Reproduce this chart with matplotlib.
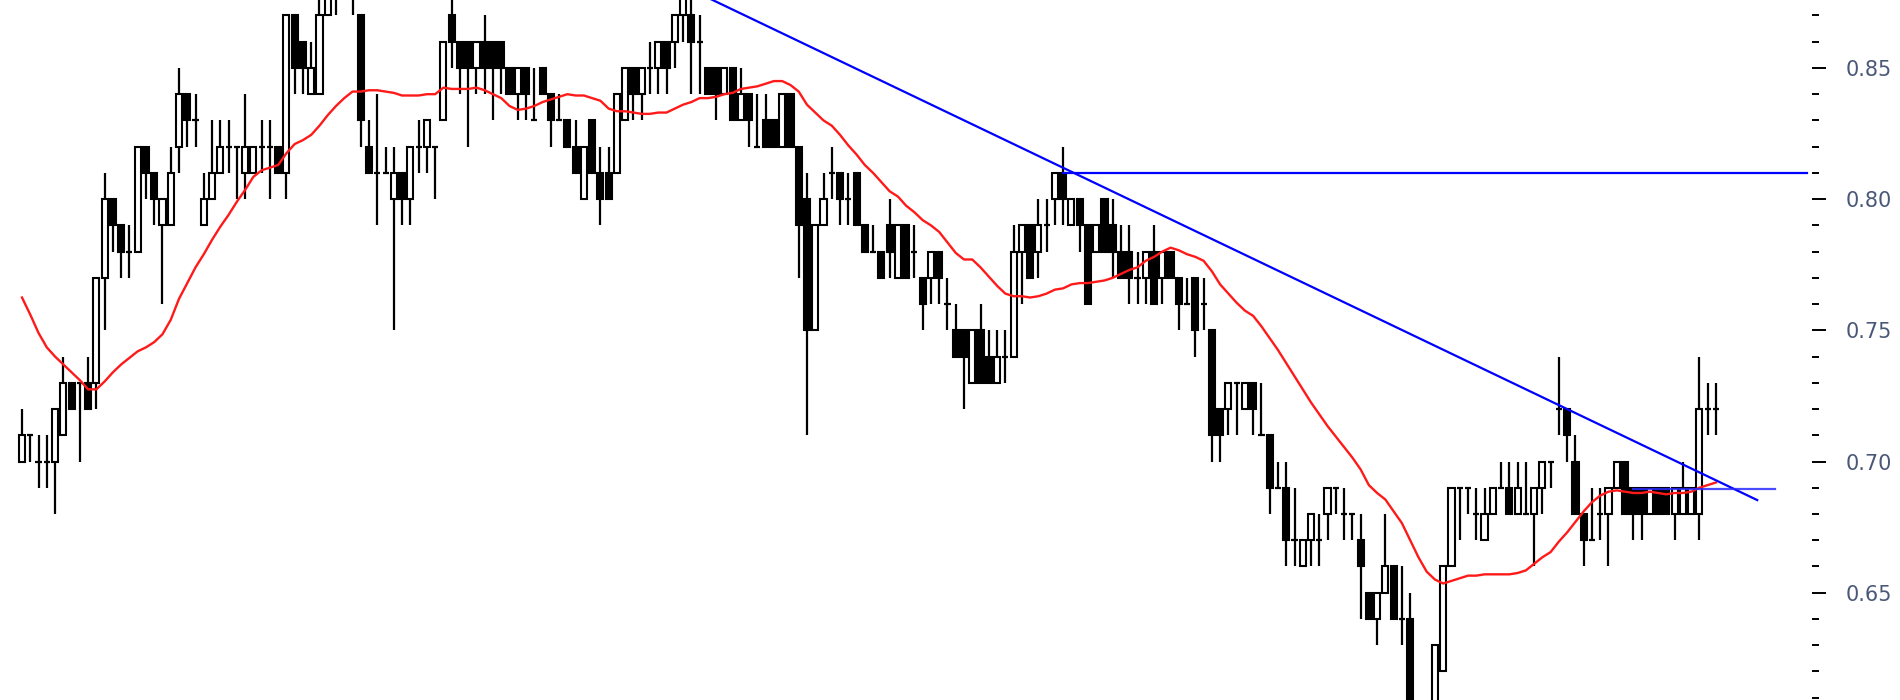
import numpy as np
import matplotlib
matplotlib.use("Agg")
import matplotlib.pyplot as plt
from matplotlib.ticker import FixedLocator, FormatStrFormatter

# ---- data (prices in 0.01 steps) ----
opens = [.70,.71,.70,.70,.70,.71,.73,.73,.73,.73,.77,.80,.79,.78,.78,.82,.81,.79,.79,.82,.84,.83,.79,.80,.81,.82,.82,
         .81,.81,.82,.82,.82,.81,.87,.86,.84,.84,.87,.89,.89,.90,.87,.82,.81,.81,.80,.81,.80,.82,.82,.82,.83,.87,.86,.86,
         .85,.86,.86,.86,.85,.84,.85,.83,.85,.84,.83,.83,.82,.80,.83,.81,.81,.81,.83,.85,.84,.85,.85,.86,.86,.87,.87,
         .86,.85,.85,.84,.85,.83,.84,.82,.83,.83,.82,.84,.82,.80,.75,.79,.81,.81,.80,.81,.79,.78,.78,.79,.77,.79,.78,.77,
         .77,.78,.76,.75,.75,.73,.75,.74,.73,.74,.74,.78,.79,.78,.79,.80,.81,.79,.80,.79,.78,.80,.79,.78,.78,.77,.77,.78,
         .77,.78,.77,.76,.77,.76,.75,.72,.72,.73,.72,.73,.71,.71,.69,.69,.67,.66,.67,.67,.68,.69,.68,.68,.67,.65,.64,.65,
         .66,.64,.64,.60,.59,.60,.62,.66,.69,.69,.68,.67,.68,.69,.69,.68,.68,.68,.69,.70,.72,.72,
         .70,.68,.67,.68,.68,.69,.70,.69,.69,.68,.69,.69,.68,.68,.68,.68,.72,.72]
highs = [.72,.71,.71,.71,.72,.74,.73,.73,.74,.77,.81,.80,.79,.79,.82,.82,.81,.80,.82,.85,.84,.84,.81,.83,.83,.83,.82,
         .84,.82,.83,.83,.82,.87,.87,.86,.86,.88,.89,.90,.91,.91,.87,.83,.84,.82,.82,.81,.82,.83,.83,.82,.86,.88,.86,.86,
         .86,.87,.86,.86,.85,.85,.85,.85,.85,.84,.84,.83,.83,.82,.83,.82,.82,.84,.85,.85,.85,.86,.86,.86,.87,.89,.88,
         .87,.85,.85,.85,.85,.85,.84,.84,.84,.83,.84,.84,.82,.81,.79,.81,.82,.81,.81,.81,.79,.79,.78,.80,.79,.79,.79,.77,
         .78,.78,.77,.76,.75,.75,.76,.75,.75,.75,.79,.79,.79,.80,.80,.81,.82,.80,.80,.79,.79,.80,.80,.79,.79,.78,.78,.79,
         .78,.78,.77,.77,.77,.77,.75,.72,.73,.73,.73,.73,.73,.71,.70,.70,.69,.67,.68,.68,.69,.69,.69,.68,.68,.65,.65,.68,
         .66,.66,.65,.60,.60,.63,.66,.69,.69,.69,.69,.69,.69,.70,.70,.70,.70,.69,.70,.70,.74,.72,
         .71,.68,.69,.69,.69,.70,.70,.69,.69,.69,.69,.69,.69,.70,.69,.74,.73,.73]
lows = [.70,.70,.69,.69,.68,.71,.72,.70,.72,.72,.75,.78,.77,.77,.78,.80,.79,.76,.79,.81,.82,.82,.79,.80,.81,.81,.80,
        .80,.81,.81,.80,.81,.80,.84,.84,.84,.84,.87,.87,.88,.87,.82,.81,.79,.81,.75,.79,.79,.81,.81,.80,.83,.85,.84,.82,
        .84,.84,.83,.84,.84,.83,.83,.83,.84,.82,.83,.82,.81,.80,.81,.79,.80,.81,.83,.83,.83,.84,.84,.84,.85,.86,.84,
        .84,.84,.83,.84,.83,.83,.82,.82,.82,.82,.82,.82,.77,.71,.75,.79,.80,.79,.79,.79,.78,.78,.77,.77,.77,.77,.77,.75,
        .76,.76,.75,.74,.72,.73,.73,.73,.73,.73,.74,.76,.77,.77,.78,.79,.79,.79,.78,.76,.78,.78,.77,.77,.76,.76,.76,.76,
        .76,.77,.75,.76,.74,.75,.70,.70,.71,.71,.72,.71,.71,.68,.69,.66,.66,.66,.66,.66,.67,.68,.67,.67,.64,.64,.63,.65,
        .64,.63,.59,.58,.58,.59,.62,.66,.67,.68,.67,.67,.68,.69,.68,.68,.68,.66,.68,.69,.71,.70,
        .68,.66,.67,.67,.66,.69,.68,.67,.67,.68,.68,.68,.67,.68,.68,.67,.71,.71]
closes = [.71,.71,.70,.70,.72,.73,.72,.73,.72,.77,.80,.79,.78,.78,.82,.81,.80,.80,.81,.84,.83,.83,.80,.81,.82,.82,.82,
          .82,.82,.82,.82,.81,.87,.85,.85,.85,.87,.88,.88,.90,.88,.83,.81,.81,.81,.81,.80,.82,.82,.83,.82,.86,.86,.85,.85,
          .86,.85,.85,.85,.84,.85,.84,.83,.84,.83,.83,.82,.81,.82,.81,.80,.80,.84,.85,.84,.85,.85,.86,.85,.87,.88,.86,
          .86,.84,.84,.85,.83,.84,.83,.82,.82,.82,.84,.82,.79,.75,.79,.80,.81,.80,.80,.79,.78,.78,.77,.78,.79,.77,.78,.76,
          .78,.77,.76,.74,.74,.75,.73,.73,.74,.74,.78,.79,.77,.79,.79,.81,.80,.80,.79,.76,.79,.78,.78,.77,.77,.77,.78,.76,
          .78,.77,.76,.76,.75,.76,.71,.71,.73,.73,.73,.72,.71,.69,.69,.67,.67,.67,.68,.67,.69,.69,.68,.68,.66,.64,.65,.66,
          .64,.64,.60,.59,.60,.63,.66,.69,.69,.69,.68,.68,.69,.69,.68,.69,.68,.69,.70,.70,.72,.71,
          .68,.67,.67,.68,.69,.70,.68,.68,.68,.69,.68,.68,.69,.69,.69,.72,.72,.72]
# closes before the visible window (estimated from the moving-average line)
prior_closes = [.84,.84,.81,.79,.79,.78,.79,.79,.77,.74,.72,.72,.73,.77,.78,.76,.74,.70,.68]
ma_period = 20

# drawn lines (candle index, price)
trend_pts = [(80, 0.8813), (210, 0.6853)]
resist_level = 0.81
resist_span = (126, 216)
base_level = 0.6895
base_span = (195, 212.2)

major_ticks = [0.65, 0.70, 0.75, 0.80, 0.85]
minor_ticks = [round(0.61 + 0.01 * i, 2) for i in range(27)]

# ---- figure ----
W, H = 1900, 700
fig = plt.figure(figsize=(W / 100, H / 100), dpi=100)
ax = fig.add_axes([0, 0, 1812 / W, 1])

o = np.array(opens); h = np.array(highs); l = np.array(lows); c = np.array(closes)
n = len(c)
x = np.arange(n)

# wicks
ax.vlines(x, l, h, color="black", linewidth=1.6, zorder=2)
up = c > o
dn = c < o
eq = c == o
bw = 0.74
ax.bar(x[up], (c - o)[up], bottom=o[up], width=bw, facecolor="white",
       edgecolor="black", linewidth=1.5, zorder=3)
ax.bar(x[dn], (c - o)[dn], bottom=o[dn], width=bw, facecolor="black",
       edgecolor="black", linewidth=1.5, zorder=3)
ax.hlines(c[eq], x[eq] - bw / 2, x[eq] + bw / 2, color="black", linewidth=1.6, zorder=3)

# moving average
allc = np.concatenate([prior_closes, c])
ma = np.convolve(allc, np.ones(ma_period) / ma_period, mode="valid")
ax.plot(x, ma[-n:], color="#ff1a1a", linewidth=1.7, zorder=4, antialiased=True)

# blue lines
ax.plot([p[0] for p in trend_pts], [p[1] for p in trend_pts], color="#0000ff", linewidth=1.6, zorder=5)
ax.plot(resist_span, [resist_level] * 2, color="#0000ff", linewidth=1.6, zorder=5)
ax.plot(base_span, [base_level] * 2, color="#2a2aff", linewidth=1.6, zorder=5, alpha=0.85)

ax.set_xlim(-22 / 8.263, (1812 - 22) / 8.263)
ax.set_ylim(0.6091, 0.8759)

for s in ax.spines.values():
    s.set_visible(False)
ax.set_xticks([])
ax.yaxis.tick_right()
ax.yaxis.set_major_locator(FixedLocator(major_ticks))
ax.yaxis.set_minor_locator(FixedLocator(minor_ticks))
ax.yaxis.set_major_formatter(FormatStrFormatter("%.2f"))
ax.tick_params(axis="y", which="major", length=10, width=1.4, pad=14,
               labelsize=15, labelcolor="#4a5878", color="black", direction="out")
ax.tick_params(axis="y", which="minor", length=5, width=1.4, color="black", direction="out")
ax.set_facecolor("white")
fig.patch.set_facecolor("white")

fig.savefig("out.png", dpi=100, facecolor="white")
